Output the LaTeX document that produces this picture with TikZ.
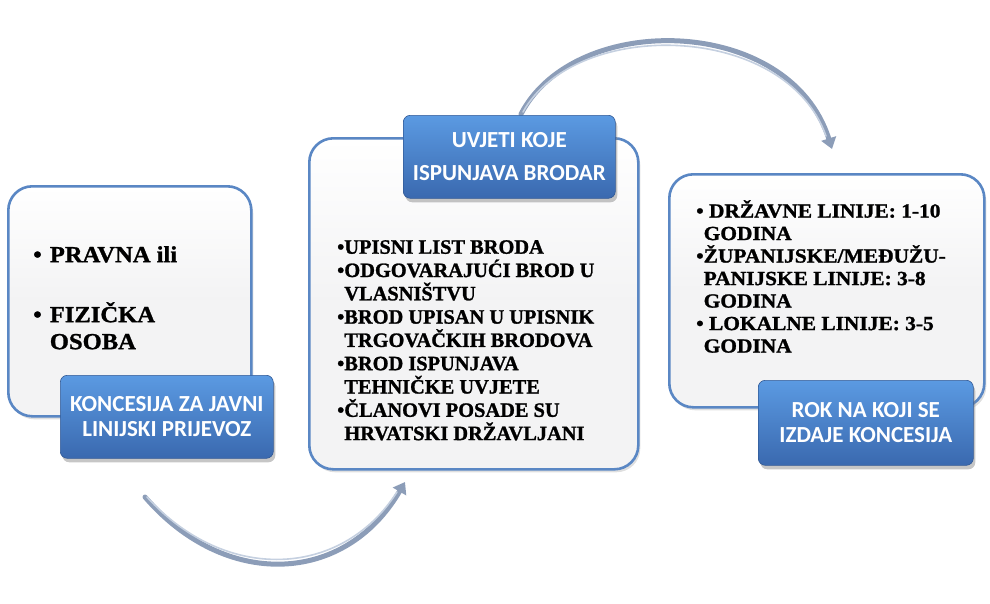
\documentclass[tikz,border=0pt]{standalone}
\usepackage{fontspec}
\setmainfont{Liberation Serif}[BoldFeatures={FakeBold=1.2}]
\newfontfamily\serifwide{Liberation Serif}[FakeStretch=1.07,BoldFeatures={FakeBold=1.2}]
\newfontfamily\calfont{Carlito}
\usetikzlibrary{shadows,arrows.meta}
\definecolor{boxborder}{HTML}{5A87C4}
\definecolor{boxfill}{HTML}{F3F3F4}
\definecolor{labtop}{HTML}{5B9AE2}
\definecolor{labbot}{HTML}{3A69AF}
\definecolor{arrowc}{HTML}{8C9DB8}
\definecolor{arrowhi}{HTML}{C5D0E0}
\tikzset{
  mainbox/.style={draw=boxborder, line width=2.6pt, rounded corners=24pt,
    top color=white, bottom color=boxfill, middle color=boxfill,
    drop shadow={opacity=0.25, shadow xshift=2pt, shadow yshift=-3pt},
    anchor=north west, inner sep=0pt},
  labbox/.style={draw=labbot!85!black, line width=0.6pt, rounded corners=7pt,
    top color=labtop, bottom color=labbot,
    drop shadow={opacity=0.45, shadow xshift=2pt, shadow yshift=-4pt},
    anchor=north west, inner sep=0pt, text=white,
    font=\calfont\bfseries\fontsize{23}{25}\selectfont, align=center},
  bodytext/.style={anchor=north west, inner sep=0pt, align=left,
    font=\bfseries\fontsize{20.4}{23.3}\selectfont},
  curvearrow/.style={draw=arrowc, line width=5pt, line cap=round,
    -{Triangle[width=15pt,length=11pt]}},
  curvehi/.style={draw=arrowhi, line width=1.6pt, line cap=round}
}
\begin{document}
\begin{tikzpicture}[x=1pt,y=-1pt]
\useasboundingbox (0,0) rectangle (990,603);
% arrows
\coordinate (a1s) at (145,497);
\coordinate (a1e) at (405,482);
\coordinate (a2s) at (521,114);
\coordinate (a2e) at (832,149);
\draw[curvearrow] (a1s) .. controls (225,590) and (345,585) .. (a1e);
\draw[curvehi] (147,497) .. controls (226,584) and (342,578) .. (397,492);
\draw[curvearrow] (a2s) .. controls (575,10) and (790,15) .. (a2e);
\draw[curvehi] (523,112) .. controls (576,17) and (786,22) .. (826,136);
% left
\node[mainbox, minimum width=243pt, minimum height=230pt] (b1) at (7,185) {};
\node[bodytext, font=\serifwide\bfseries\fontsize{23}{27}\selectfont] (t1) at (33,246)
  {\textbullet\hspace{8pt}PRAVNA ili\\[33pt]\textbullet\hspace{8pt}FIZIČKA\\\phantom{\textbullet}\hspace{8pt}OSOBA};
\node[labbox, minimum width=213pt, minimum height=83pt] (l1) at (60,375)
  {KONCESIJA ZA JAVNI\\LINIJSKI PRIJEVOZ};
% middle
\node[mainbox, minimum width=329pt, minimum height=331pt] (b2) at (308,137) {};
\node[bodytext] (t2) at (337,240)
  {\textbullet UPISNI LIST BRODA\\
   \textbullet ODGOVARAJUĆI BROD U\\
   \phantom{\textbullet}VLASNIŠTVU\\
   \textbullet BROD UPISAN U UPISNIK\\
   \phantom{\textbullet}TRGOVAČKIH BRODOVA\\
   \textbullet BROD ISPUNJAVA\\
   \phantom{\textbullet}TEHNIČKE UVJETE\\
   \textbullet ČLANOVI POSADE SU\\
   \phantom{\textbullet}HRVATSKI DRŽAVLJANI};
\node[labbox, minimum width=212pt, minimum height=83pt,
  font=\calfont\bfseries\fontsize{23}{33}\selectfont] (l2) at (403,115)
  {UVJETI KOJE\\ISPUNJAVA BRODAR};
% right
\node[mainbox, minimum width=315pt, minimum height=233pt] (b3) at (668,173) {};
\node[bodytext, font=\serifwide\bfseries\fontsize{20}{22.5}\selectfont] (t3) at (696,200)
  {\textbullet~DRŽAVNE LINIJE: 1-10\\
   \phantom{\textbullet}GODINA\\
   \textbullet ŽUPANIJSKE/MEĐUŽU-\\
   \phantom{\textbullet}PANIJSKE LINIJE: 3-8\\
   \phantom{\textbullet}GODINA\\
   \textbullet~LOKALNE LINIJE: 3-5\\
   \phantom{\textbullet}GODINA};
\node[labbox, minimum width=215pt, minimum height=85pt] (l3) at (758,380)
  {ROK NA KOJI SE\\IZDAJE KONCESIJA};
\end{tikzpicture}
\end{document}
